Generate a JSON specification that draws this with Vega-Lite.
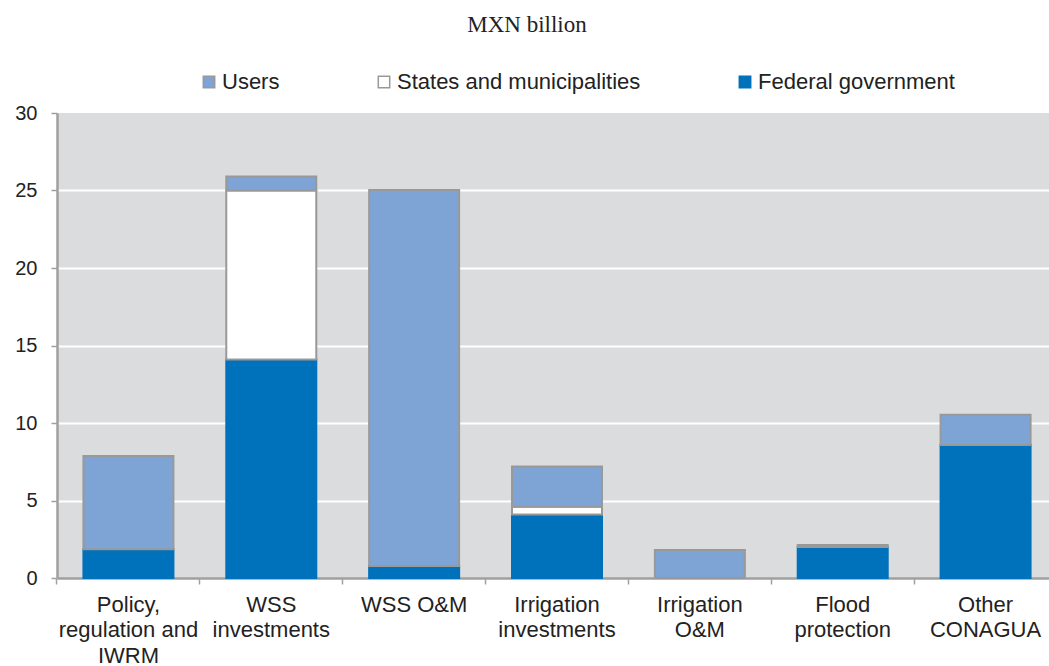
{
  "$schema": "https://vega.github.io/schema/vega-lite/v6.json",
  "autosize": "none",
  "width": 1000,
  "height": 465,
  "padding": {"left": 57, "top": 113, "right": 0, "bottom": 88},
  "background": "white",
  "title": {
    "text": "MXN billion",
    "font": "Liberation Serif",
    "fontSize": 23,
    "fontWeight": "normal",
    "color": "#222222",
    "anchor": "middle",
    "dx": -30,
    "offset": 34
  },
  "data": {
    "values": [
      {"category": "Policy, regulation and IWRM", "source": "Federal government", "order": 1, "value": 1.85},
      {"category": "Policy, regulation and IWRM", "source": "Users", "order": 3, "value": 6.02},
      {"category": "WSS investments", "source": "Federal government", "order": 1, "value": 14.1},
      {"category": "WSS investments", "source": "States and municipalities", "order": 2, "value": 10.9},
      {"category": "WSS investments", "source": "Users", "order": 3, "value": 0.9},
      {"category": "WSS O&M", "source": "Federal government", "order": 1, "value": 0.78},
      {"category": "WSS O&M", "source": "Users", "order": 3, "value": 24.25},
      {"category": "Irrigation investments", "source": "Federal government", "order": 1, "value": 4.1},
      {"category": "Irrigation investments", "source": "States and municipalities", "order": 2, "value": 0.5},
      {"category": "Irrigation investments", "source": "Users", "order": 3, "value": 2.6},
      {"category": "Irrigation O&M", "source": "Users", "order": 3, "value": 1.8},
      {"category": "Flood protection", "source": "Federal government", "order": 1, "value": 2.0},
      {"category": "Flood protection", "source": "Users", "order": 3, "value": 0.13},
      {"category": "Other CONAGUA", "source": "Federal government", "order": 1, "value": 8.58},
      {"category": "Other CONAGUA", "source": "Users", "order": 3, "value": 1.95}
    ]
  },
  "mark": {"type": "bar", "strokeWidth": 2},
  "encoding": {
    "x": {
      "field": "category",
      "type": "nominal",
      "sort": ["Policy, regulation and IWRM", "WSS investments", "WSS O&M", "Irrigation investments", "Irrigation O&M", "Flood protection", "Other CONAGUA"],
      "scale": {"paddingInner": 0.37, "paddingOuter": 0.185},
      "axis": {
        "title": null,
        "labelAngle": 0,
        "labelFont": "Liberation Sans",
        "labelFontSize": 22,
        "labelColor": "#222222",
        "labelLineHeight": 25.5,
        "labelBaseline": "top",
        "labelPadding": 10,
        "labelLimit": 200,
        "domainColor": "#A0A0A0",
        "domainWidth": 2.5,
        "tickColor": "#A0A0A0",
        "tickSize": 6,
        "tickWidth": 1.5,
        "bandPosition": -0.2937,
        "labelExpr": "datum.value == 'Policy, regulation and IWRM' ? ['Policy,', 'regulation and', 'IWRM'] : datum.value == 'WSS investments' ? ['WSS', 'investments'] : datum.value == 'Irrigation investments' ? ['Irrigation', 'investments'] : datum.value == 'Irrigation O&M' ? ['Irrigation', 'O&M'] : datum.value == 'Flood protection' ? ['Flood', 'protection'] : datum.value == 'Other CONAGUA' ? ['Other', 'CONAGUA'] : datum.value"
      }
    },
    "y": {
      "field": "value",
      "type": "quantitative",
      "aggregate": "sum",
      "stack": "zero",
      "scale": {"domain": [0, 30], "nice": false},
      "axis": {
        "title": null,
        "values": [0, 5, 10, 15, 20, 25, 30],
        "labelFont": "Liberation Sans",
        "labelFontSize": 20,
        "labelColor": "#222222",
        "labelPadding": 14,
        "domainColor": "#A0A0A0",
        "domainWidth": 2.5,
        "tickColor": "#A0A0A0",
        "tickSize": 6,
        "tickWidth": 1.5,
        "grid": true,
        "gridColor": {"condition": {"test": "datum.value >= 30 || datum.value <= 0", "value": "transparent"}, "value": "#FFFFFF"},
        "gridWidth": 2
      }
    },
    "order": {"field": "order", "type": "quantitative", "sort": "ascending"},
    "color": {
      "field": "source",
      "type": "nominal",
      "scale": {
        "domain": ["Users", "States and municipalities", "Federal government"],
        "range": ["#7EA3D5", "#FFFFFF", "#0071BB"]
      },
      "legend": {
        "title": null,
        "orient": "none",
        "legendX": 141,
        "legendY": -42,
        "direction": "horizontal",
        "columns": 3,
        "columnPadding": 93,
        "symbolType": "square",
        "symbolSize": 130,
        "symbolStrokeWidth": 1.5,
        "labelFont": "Liberation Sans",
        "labelFontSize": 22,
        "labelColor": "#222222",
        "labelOffset": 2,
        "labelLimit": 400
      }
    },
    "stroke": {
      "field": "source",
      "type": "nominal",
      "scale": {
        "domain": ["Users", "States and municipalities", "Federal government"],
        "range": ["#999999", "#999999", "#0071BB"]
      }
    }
  },
  "config": {
    "view": {"fill": "#DBDCDE", "stroke": null}
  }
}
